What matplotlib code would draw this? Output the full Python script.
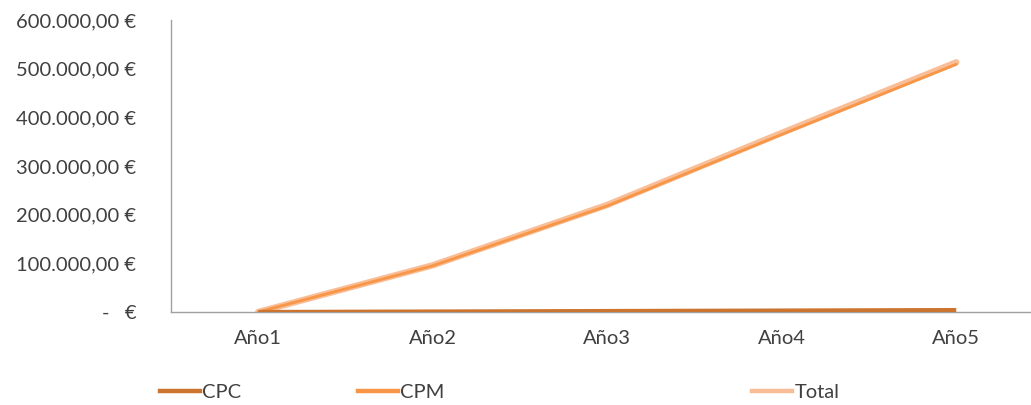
import matplotlib
matplotlib.use("Agg")
import matplotlib.pyplot as plt
from matplotlib.ticker import FuncFormatter
from matplotlib.lines import Line2D

# Yearly cost per pricing model (EUR)
years = ["Año1", "Año2", "Año3", "Año4", "Año5"]
cpc = [0, 1000, 2000, 3000, 4000]
cpm = [0, 95000, 218000, 365000, 509000]
total = [a + b for a, b in zip(cpc, cpm)]

y_ticks = [0, 100000, 200000, 300000, 400000, 500000, 600000]

plt.rcParams["font.family"] = ["Lato", "DejaVu Sans"]

fig = plt.figure(figsize=(10.31, 4.05), dpi=100)
ax = fig.add_axes([171 / 1031, 1 - 312 / 405, 872.5 / 1031, 292 / 405])

x = list(range(len(years)))
c_cpc, c_cpm, c_tot = "#CC7530", "#F79646", "#F9BE97"
l_tot, = ax.plot(x, total, color=c_tot, lw=4.6, solid_capstyle="round", zorder=2)
l_cpm, = ax.plot(x, cpm, color=c_cpm, lw=2.0, solid_capstyle="round", zorder=3)
l_cpc, = ax.plot(x, cpc, color=c_cpc, lw=3.0, solid_capstyle="butt", zorder=4)

ax.set_xlim(-0.5, 4.5)
ax.set_ylim(0, 600000)
ax.set_xticks(x)
ax.set_xticklabels(years)
ax.set_yticks(y_ticks)


def euro(v, pos):
    if v == 0:
        return "-   €"
    s = f"{v:,.2f}".replace(",", "X").replace(".", ",").replace("X", ".")
    return s + " €"


ax.yaxis.set_major_formatter(FuncFormatter(euro))
ax.tick_params(axis="both", length=0, labelsize=14.5, colors="#404040")
ax.tick_params(axis="y", pad=25)
ax.tick_params(axis="x", pad=13)
for side in ("top", "right"):
    ax.spines[side].set_visible(False)
for side in ("left", "bottom"):
    ax.spines[side].set_color("#A0A0A0")
    ax.spines[side].set_linewidth(1.0)

# Legend entries spread along the bottom, uniform handle thickness
for color, label, xpos in [(c_cpc, "CPC", 160 / 1031), (c_cpm, "CPM", 358 / 1031), (c_tot, "Total", 752 / 1031)]:
    handle = Line2D([], [], color=color, lw=3.2)
    fig.legend([handle], [label], loc="center left", bbox_to_anchor=(xpos, 0.032),
               frameon=False, fontsize=14.5, handlelength=2.0, handletextpad=0.1,
               labelcolor="#404040", borderpad=0, borderaxespad=0)

fig.savefig("out.png", dpi=100)
